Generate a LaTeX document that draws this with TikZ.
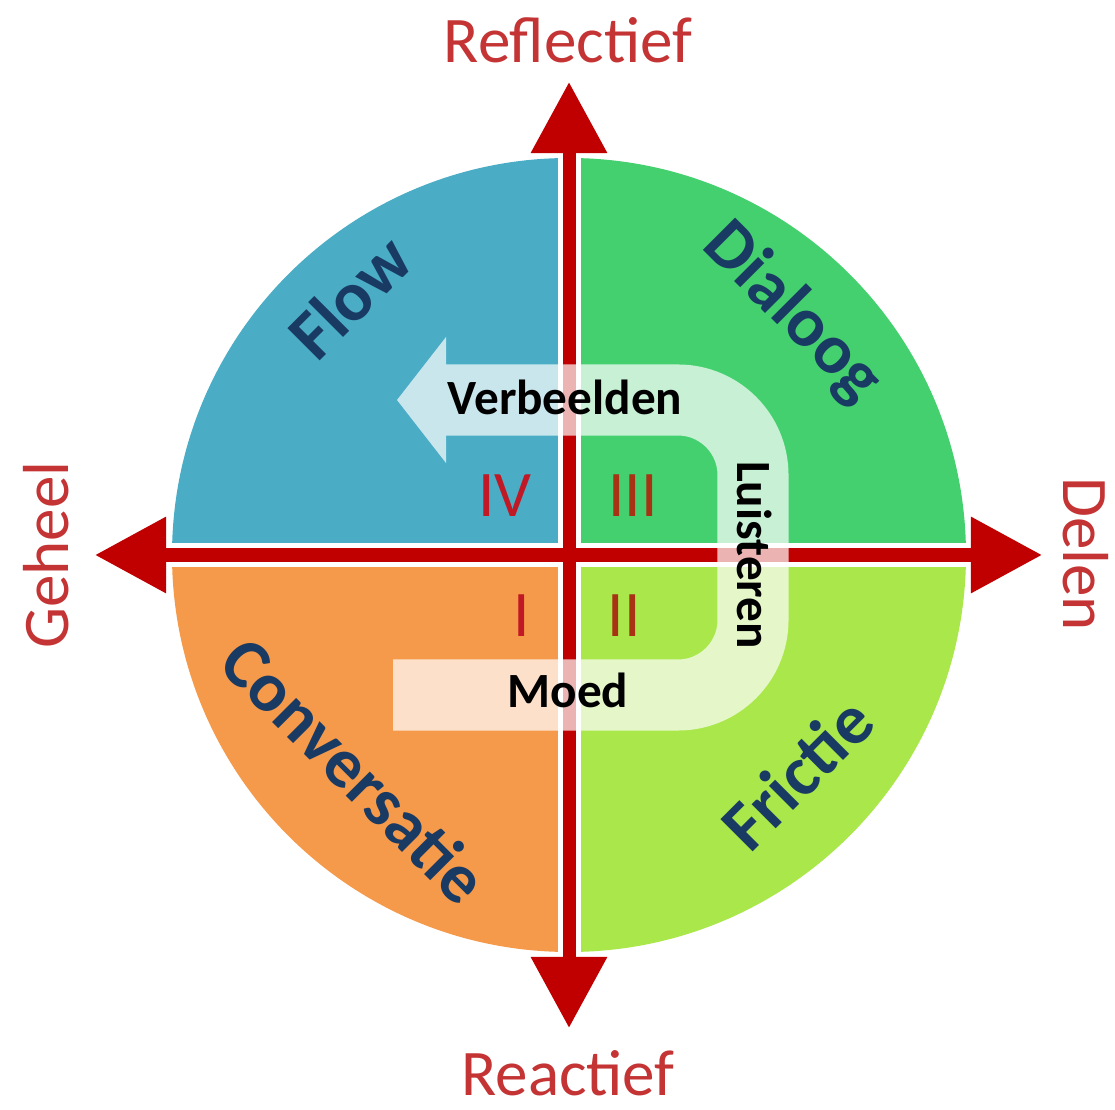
\documentclass[tikz,border=0pt]{standalone}
\usepackage{fontspec}
\setmainfont{Carlito}
\usetikzlibrary{arrows.meta}

\definecolor{flowblue}{RGB}{74,172,197}
\definecolor{dialooggreen}{RGB}{69,208,111}
\definecolor{convorange}{RGB}{245,154,74}
\definecolor{frictielime}{RGB}{169,231,75}
\definecolor{axisred}{RGB}{192,0,0}
\definecolor{labelred}{RGB}{196,52,52}
\definecolor{quadnavy}{RGB}{25,58,98}
\definecolor{numred}{RGB}{192,24,36}
\definecolor{numbrown}{RGB}{168,50,20}

\begin{document}
\begin{tikzpicture}[x=0.01cm,y=-0.01cm,
    axis/.style={draw=axisred,line width=0.13cm,
      {Triangle[length=0.71cm,width=0.73cm]}-{Triangle[length=0.71cm,width=0.73cm]}},
    gap/.style={draw=white,line width=0.23cm},
    uband/.style={draw=white,line width=0.71cm,rounded corners=0.75cm},
    axislabel/.style={text=labelred,inner sep=0pt,font=\fontsize{18.5}{22}\selectfont},
    quadlabel/.style={text=quadnavy,inner sep=0pt,font=\bfseries\fontsize{20}{24}\selectfont},
    numeral/.style={inner sep=0pt,font=\fontsize{18.5}{22}\selectfont},
    steplabel/.style={inner sep=0pt,font=\bfseries\fontsize{14}{16}\selectfont}]
    \useasboundingbox (0,0) rectangle (1115,1110);

    \coordinate (c) at (569,555);
    \coordinate (up) at (569,82);
    \coordinate (down) at (569,1028);
    \coordinate (left) at (95,555);
    \coordinate (right) at (1042,555);

    % quadrants
    \begin{scope}
        \clip (c) circle[radius=397];
        \fill[flowblue] (c) rectangle (150,150);
        \fill[dialooggreen] (c) rectangle (990,150);
        \fill[convorange] (c) rectangle (150,960);
        \fill[frictielime] (c) rectangle (990,960);
        \draw[gap] (569,150) -- (569,960);
        \draw[gap] (150,555) -- (990,555);
    \end{scope}

    % axes
    \draw[axis] (down) -- (up);
    \draw[axis] (left) -- (right);

    % moed - luisteren - verbeelden
    \coordinate (moedend) at (393,695);
    \coordinate (bend1) at (753,695);
    \coordinate (bend2) at (753,400);
    \coordinate (headbase) at (446,400);
    \coordinate (headtop) at (446,337);
    \coordinate (tip) at (397,400);
    \coordinate (headbot) at (446,463);
    \begin{scope}[transparency group,opacity=0.7]
        \draw[uband] (moedend) -- (bend1) -- (bend2) -- (headbase);
        \fill[white] (headtop) -- (tip) -- (headbot) -- cycle;
    \end{scope}

    \node[axislabel] (reflectief) at (568,40) {Reflectief};
    \node[axislabel] (reactief) at (568,1073) {Reactief};
    \node[axislabel,rotate=90] (geheel) at (46,555) {Geheel};
    \node[axislabel,rotate=-90] (delen) at (1086,554) {Delen};

    \node[quadlabel,rotate=45] (flow) at (350,297) {Flow};
    \node[quadlabel,rotate=-45] (dialoog) at (792,313) {Dialoog};
    \node[quadlabel,rotate=-45] (conversatie) at (355,770) {Conversatie};
    \node[quadlabel,rotate=45] (frictie) at (797,773) {Frictie};

    \node[numeral,text=numred] (iv) at (505,496) {IV};
    \node[numeral,text=numbrown] (iii) at (633,496) {III};
    \node[numeral,text=numred] (i) at (522,616) {I};
    \node[numeral,text=numbrown] (ii) at (624,616) {II};

    \node[steplabel] (verbeelden) at (565,397) {Verbeelden};
    \node[steplabel] (moed) at (568,690) {Moed};
    \node[steplabel,rotate=-90] (luisteren) at (755,555) {Luisteren};
\end{tikzpicture}
\end{document}
